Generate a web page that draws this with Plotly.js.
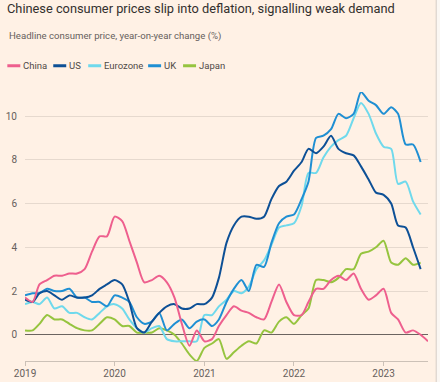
<!DOCTYPE html>
<html>
<head>
<meta charset="utf-8">
<script src="https://cdn.plot.ly/plotly-3.0.1.min.js"></script>
<style>
html,body{margin:0;padding:0;background:#fff1e5;}
#chart{width:440px;height:382px;}
</style>
</head>
<body>
<div id="chart"></div>
<script>
// ---- Data (year-on-year CPI change, %) ----
const startMonth = "2019-01";
const seriesNames = ["China", "US", "Eurozone", "UK", "Japan"];
const seriesColors = ["#ee5f8e", "#0d5096", "#6fd9ec", "#1f8fd3", "#96c43f"];

const china = [1.7,1.5,2.3,2.5,2.7,2.7,2.8,2.8,3.0,3.8,4.5,4.5,
               5.4,5.2,4.3,3.3,2.4,2.5,2.7,2.4,1.7,0.5,-0.5,0.2,
               -0.3,-0.2,0.4,0.9,1.3,1.1,1.0,0.8,0.7,1.5,2.3,1.5,
               0.9,0.9,1.5,2.1,2.1,2.5,2.7,2.5,2.8,2.1,1.6,1.8,
               2.1,1.0,0.7,0.1,0.2,0.0,-0.3];
const us = [1.6,1.5,1.9,2.0,1.8,1.6,1.8,1.7,1.7,1.8,2.1,2.3,
            2.5,2.3,1.5,0.3,0.1,0.6,1.0,1.3,1.4,1.2,1.2,1.4,
            1.4,1.7,2.6,4.2,5.0,5.4,5.4,5.3,5.4,6.2,6.8,7.0,
            7.5,7.9,8.5,8.3,8.6,9.1,8.5,8.3,8.2,7.7,7.1,6.5,
            6.4,6.0,5.0,4.9,4.0,3.0];
const eurozone = [1.4,1.5,1.4,1.7,1.2,1.3,1.0,1.0,0.8,0.7,1.0,1.3,
                  1.4,1.2,0.7,0.3,0.1,0.3,0.4,-0.2,-0.3,-0.3,-0.3,-0.3,
                  0.9,0.9,1.3,1.6,2.0,1.9,2.2,3.0,3.4,4.1,4.9,5.0,
                  5.1,5.9,7.4,7.4,8.1,8.6,8.9,9.1,9.9,10.6,10.1,9.2,
                  8.6,8.5,6.9,7.0,6.1,5.5];
const uk = [1.8,1.9,1.9,2.1,2.0,2.0,2.1,1.7,1.7,1.5,1.5,1.3,
            1.8,1.7,1.5,0.8,0.5,0.6,1.0,0.2,0.5,0.7,0.3,0.6,
            0.7,0.4,0.7,1.5,2.1,2.5,2.0,3.2,3.1,4.2,5.1,5.4,
            5.5,6.2,7.0,9.0,9.1,9.4,10.1,9.9,10.1,11.1,10.7,10.5,
            10.1,10.4,10.1,8.7,8.7,7.9];
const japan = [0.2,0.2,0.5,0.9,0.7,0.7,0.5,0.3,0.2,0.2,0.5,0.8,
               0.7,0.4,0.4,0.1,0.1,0.1,0.3,0.2,0.0,-0.4,-0.9,-1.2,
               -0.6,-0.4,-0.2,-1.1,-0.8,-0.5,-0.3,-0.4,0.2,0.1,0.6,0.8,
               0.5,0.9,1.2,2.5,2.5,2.4,2.6,3.0,3.0,3.7,3.8,4.0,
               4.3,3.3,3.2,3.5,3.2,3.3];
const seriesValues = [china, us, eurozone, uk, japan];

const yTickVals = [0, 2, 4, 6, 8, 10];
const yTickText = ["0", "2", "4", "6", "8", "10"];
const xTickVals = ["2019-01-01", "2020-01-01", "2021-01-01", "2022-01-01", "2023-01-01"];
const xTickText = ["2019", "2020", "2021", "2022", "2023"];

const titleText = "Chinese consumer prices slip into deflation, signalling weak demand";
const subtitleText = "Headline consumer price, year-on-year change (%)";

// ---- Build monthly dates ----
function monthDates(n) {
  const [y0, m0] = startMonth.split("-").map(Number);
  const out = [];
  for (let i = 0; i < n; i++) {
    const t = (m0 - 1) + i;
    const y = y0 + Math.floor(t / 12);
    const m = (t % 12) + 1;
    out.push(y + "-" + String(m).padStart(2, "0") + "-01");
  }
  return out;
}

// ---- Layout geometry (pixels) ----
const W = 440, H = 382;
const PL = 24.7, PR = 428.3, PT = 92.2, PB = 360.7;
const xp = px => (px - PL) / (PR - PL);
const yp = py => (PB - py) / (PB - PT);

const FONT = "Roboto, 'Liberation Sans', sans-serif";

const traces = seriesNames.map((name, i) => ({
  type: "scatter",
  mode: "lines",
  name: name,
  x: monthDates(seriesValues[i].length),
  y: seriesValues[i],
  line: { color: seriesColors[i], width: 2, shape: "spline", smoothing: 0.7 },
  showlegend: false,
  hoverinfo: "x+y+name"
}));
// draw order: China on top
const order = [4, 2, 3, 1, 0];
const data = order.map(i => traces[i]);

// ---- Custom legend ----
const legendSwatchX = [7, 53, 88, 148, 183];
const legendY = 66;
const shapes = [];
const annotations = [];
seriesNames.forEach((name, i) => {
  shapes.push({
    type: "line", xref: "paper", yref: "paper",
    x0: xp(legendSwatchX[i]), x1: xp(legendSwatchX[i] + 13),
    y0: yp(legendY), y1: yp(legendY),
    line: { color: seriesColors[i], width: 3 }
  });
  annotations.push({
    xref: "paper", yref: "paper",
    x: xp(legendSwatchX[i] + 14), y: yp(legendY),
    xanchor: "left", yanchor: "middle", showarrow: false,
    text: name, font: { family: FONT, size: 9.5, color: "#4f4a47" }
  });
});
annotations.push({
  xref: "paper", yref: "paper", x: xp(7), y: yp(36),
  xanchor: "left", yanchor: "middle", showarrow: false,
  text: subtitleText, font: { family: FONT, size: 9.6, color: "#66605c" }
});
// right frame edge
shapes.push({
  type: "rect", xref: "paper", yref: "paper",
  x0: xp(436.5), x1: xp(441), y0: yp(-1), y1: yp(383),
  fillcolor: "#fbf7f3", line: { color: "#d6cdc5", width: 1 }, layer: "above"
});

const layout = {
  width: W, height: H,
  paper_bgcolor: "#fff1e5",
  plot_bgcolor: "#fff1e5",
  margin: { l: PL, r: W - PR, t: PT, b: H - PB, pad: 0 },
  title: {
    text: titleText,
    xref: "container", yref: "container",
    x: 7 / W, xanchor: "left",
    y: 1 - 8.5 / H, yanchor: "middle",
    font: { family: FONT, size: 12.8, color: "#33302e" }
  },
  xaxis: {
    type: "date",
    range: ["2019-01-01", "2023-07-01"],
    tickvals: xTickVals, ticktext: xTickText,
    showgrid: false, zeroline: false,
    showline: true, linecolor: "#ccc1b7", linewidth: 1,
    ticks: "outside", ticklen: 4, tickcolor: "#ccc1b7", tickwidth: 1,
    ticklabelstandoff: -1,
    tickfont: { family: FONT, size: 10, color: "#66605c" },
    fixedrange: true
  },
  yaxis: {
    range: [-1.2, 11.1],
    tickvals: yTickVals, ticktext: yTickText,
    showgrid: true, gridcolor: "#e6d9ce", gridwidth: 1,
    zeroline: true, zerolinecolor: "#6b6460", zerolinewidth: 1,
    showline: false, ticks: "",
    ticklabelstandoff: 7,
    tickfont: { family: FONT, size: 10, color: "#66605c" },
    fixedrange: true
  },
  shapes: shapes,
  annotations: annotations,
  showlegend: false
};

Plotly.newPlot("chart", data, layout, { displayModeBar: false, staticPlot: true });
</script>
</body>
</html>
